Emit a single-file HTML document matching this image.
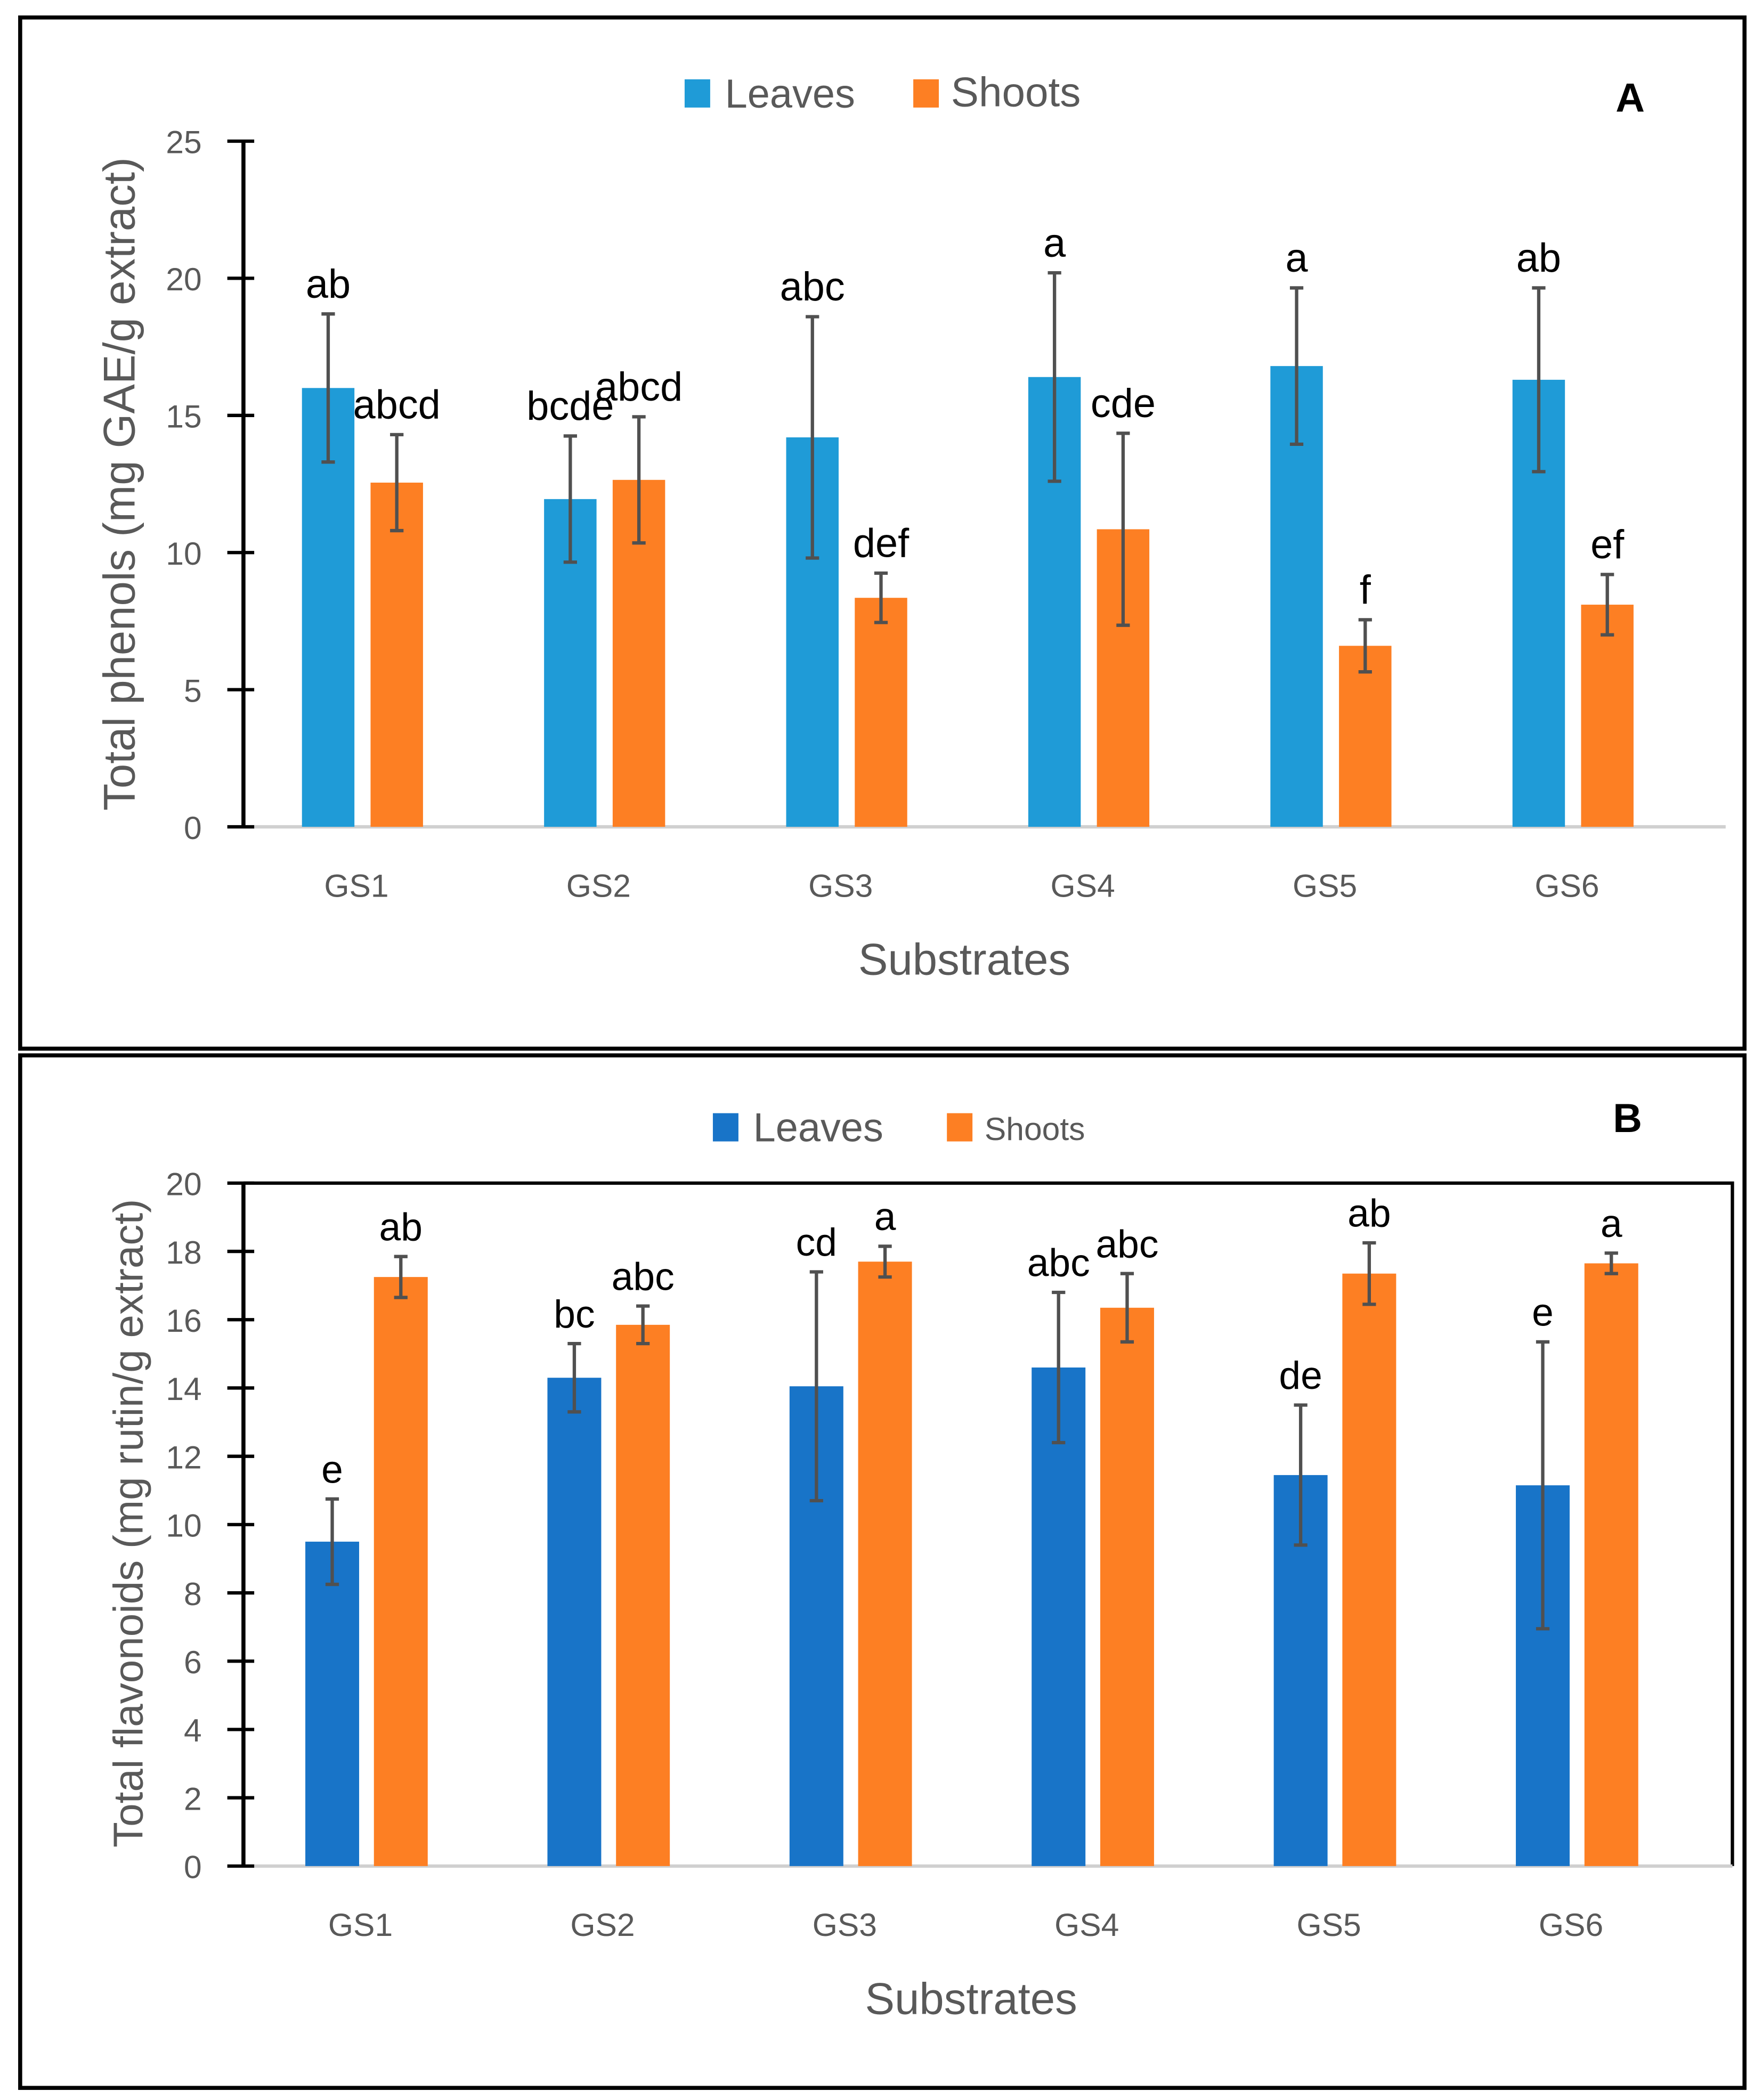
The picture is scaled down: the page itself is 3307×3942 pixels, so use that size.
<!DOCTYPE html>
<html><head><meta charset="utf-8"><style>
html,body{margin:0;padding:0;background:#fff;}
svg{display:block;}
text{font-family:"Liberation Sans",sans-serif;}
</style></head><body>
<svg id="svg" width="3307" height="3942" viewBox="0 0 1310 1562" preserveAspectRatio="none" xmlns="http://www.w3.org/2000/svg"></svg>
<script>
const categories = ["GS1","GS2","GS3","GS4","GS5","GS6"];
const aLeaves = [16.0,11.95,14.2,16.4,16.8,16.3];
const aLeavesErr = [2.7,2.3,4.4,3.8,2.85,3.35];
const aShoots = [12.55,12.65,8.35,10.85,6.6,8.1];
const aShootsErr = [1.75,2.3,0.9,3.5,0.95,1.1];
const aLeavesLbl = ["ab","bcde","abc","a","a","ab"];
const aShootsLbl = ["abcd","abcd","def","cde","f","ef"];
const aTicks = [0,5,10,15,20,25];
const bLeaves = [9.5,14.3,14.05,14.6,11.45,11.15];
const bLeavesErr = [1.25,1.0,3.35,2.2,2.05,4.2];
const bShoots = [17.25,15.85,17.7,16.35,17.35,17.65];
const bShootsErr = [0.6,0.55,0.45,1.0,0.9,0.3];
const bLeavesLbl = ["e","bc","cd","abc","de","e"];
const bShootsLbl = ["ab","abc","a","abc","ab","a"];
const bTicks = [0,2,4,6,8,10,12,14,16,18,20];

const svg = document.getElementById('svg');
const NS = "http://www.w3.org/2000/svg";
function el(tag, attrs, parent, txt){
  const e = document.createElementNS(NS, tag);
  for (const k in attrs) e.setAttribute(k, attrs[k]);
  if (txt !== undefined) e.textContent = txt;
  (parent||svg).appendChild(e);
  return e;
}

function chart(o){
  const g = el('g', {});
  
  
  const fr = el('rect', {x:o.fx, y:o.fy, width:o.fw, height:o.fh, fill:'#fff', stroke:'#000', 'stroke-width':3}, g);
  
  
  const y = v => o.y0 - (v - o.min) / (o.max - o.min) * (o.y0 - o.y1);
  const cx = i => o.c0 + i * o.step;
  if (o.box){
    const bx = el('path', {d:`M${o.ax} ${o.y1} H${o.xr} V${o.y0}`, fill:'none', stroke:'#000', 'stroke-width':2.5}, g);
    
    
  }
  const base = el('line', {x1:o.ax, x2:o.xr, y1:o.y0, y2:o.y0, stroke:'#d0d0d0', 'stroke-width':2.5}, g);
  
  
  const ya = el('line', {x1:o.ax, x2:o.ax, y1:o.y1, y2:o.y0, stroke:'#000', 'stroke-width':3}, g);
  
  
  o.ticks.forEach(t => {
    const tk = el('line', {x1:o.ax-12, x2:o.ax+8, y1:y(t), y2:y(t), stroke:'#000', 'stroke-width':2.5}, g);
    
    
    const tl = el('text', {x:o.ax-31, y:y(t)+9, 'text-anchor':'end', 'font-size':24, fill:'#595959'}, g, String(t));
    
    
  });
  const series = [
    {v:o.leaves, e:o.lErr, l:o.lLbl, c:o.lCol, off:o.lOff, n:'leaves'},
    {v:o.shoots, e:o.sErr, l:o.sLbl, c:'#FD7F23', off:o.sOff, n:'shoots'}
  ];
  categories.forEach((cat, i) => {
    series.forEach(s => {
      const xc = cx(i) + s.off;
      const b = el('rect', {x:xc - o.bw/2, y:y(s.v[i]), width:o.bw, height:o.y0 - y(s.v[i]), fill:s.c}, g);
      
      
      const hi = y(s.v[i] + s.e[i]), lo = y(s.v[i] - s.e[i]);
      const eb = el('path', {d:`M${xc} ${hi} V${lo} M${xc-5} ${hi} H${xc+5} M${xc-5} ${lo} H${xc+5}`, stroke:'#505050', 'stroke-width':2.5, fill:'none'}, g);
      
      
      const lt = el('text', {x:xc, y:hi - 12, 'text-anchor':'middle', 'font-size':o.lfs, fill:'#000'}, g, s.l[i]);
      
      
    });
    const xl = el('text', {x:cx(i) + o.xlOff, y:o.y0 + 52, 'text-anchor':'middle', 'font-size':24, fill:'#595959'}, g, cat);
    
    
  });
  const xt = el('text', {x:o.xtx, y:o.y0 + 110, 'text-anchor':'middle', 'font-size':33, fill:'#595959'}, g, 'Substrates');
  
  
  const yt = el('text', {x:0, y:0, 'text-anchor':'middle', 'font-size':o.ytfs, fill:'#595959', transform:`translate(${o.ytx},${o.ytc}) rotate(-90)`}, g, o.ytitle);
  
  
  const l1 = el('rect', {x:o.lgx1, y:o.lgy-10, width:19, height:21, fill:o.lCol}, g);
  
  
  const t1 = el('text', {x:o.lgx1+30, y:o.lgy+11, 'font-size':30, fill:'#595959'}, g, 'Leaves');
  
  
  const l2 = el('rect', {x:o.lgx2, y:o.lgy-10, width:19, height:21, fill:'#FD7F23'}, g);
  
  
  const t2 = el('text', {x:o.lgx2+28, y:o.lgy+10, 'font-size':o.sfs, fill:'#595959'}, g, 'Shoots');
  
  
  const pl = el('text', {x:o.px, y:o.py, 'text-anchor':'middle', 'font-size':30, 'font-weight':'bold', fill:'#000'}, g, o.panel);
  
  
}

chart({name:'chart-a-total-phenols', fx:15, fy:13, fw:1282, fh:767, ax:181, xr:1283, y0:615, y1:105, min:0, max:25,
  ticks:aTicks, c0:270, step:180, bw:39, lOff:-26, sOff:25, xlOff:-5,
  leaves:aLeaves, lErr:aLeavesErr, shoots:aShoots, sErr:aShootsErr, lLbl:aLeavesLbl, sLbl:aShootsLbl,
  lCol:'#1F9BD7', lfs:30, xtx:717, ytx:100, ytc:360, ytfs:33, ytitle:'Total phenols (mg GAE/g extract)',
  lgx1:509, lgx2:679, lgy:69, sfs:31, panel:'A', px:1212, py:83, box:false});

chart({name:'chart-b-total-flavonoids', fx:15, fy:785, fw:1282, fh:768, ax:181, xr:1288, y0:1388, y1:880, min:0, max:20,
  ticks:bTicks, c0:272, step:180, bw:40, lOff:-25, sOff:26, xlOff:-4,
  leaves:bLeaves, lErr:bLeavesErr, shoots:bShoots, sErr:bShootsErr, lLbl:bLeavesLbl, sLbl:bShootsLbl,
  lCol:'#1874C8', lfs:29, xtx:722, ytx:106, ytc:1133, ytfs:31, ytitle:'Total flavonoids (mg rutin/g extract)',
  lgx1:530, lgx2:704, lgy:838, sfs:24, panel:'B', px:1210, py:842, box:true});
</script>
</body></html>
